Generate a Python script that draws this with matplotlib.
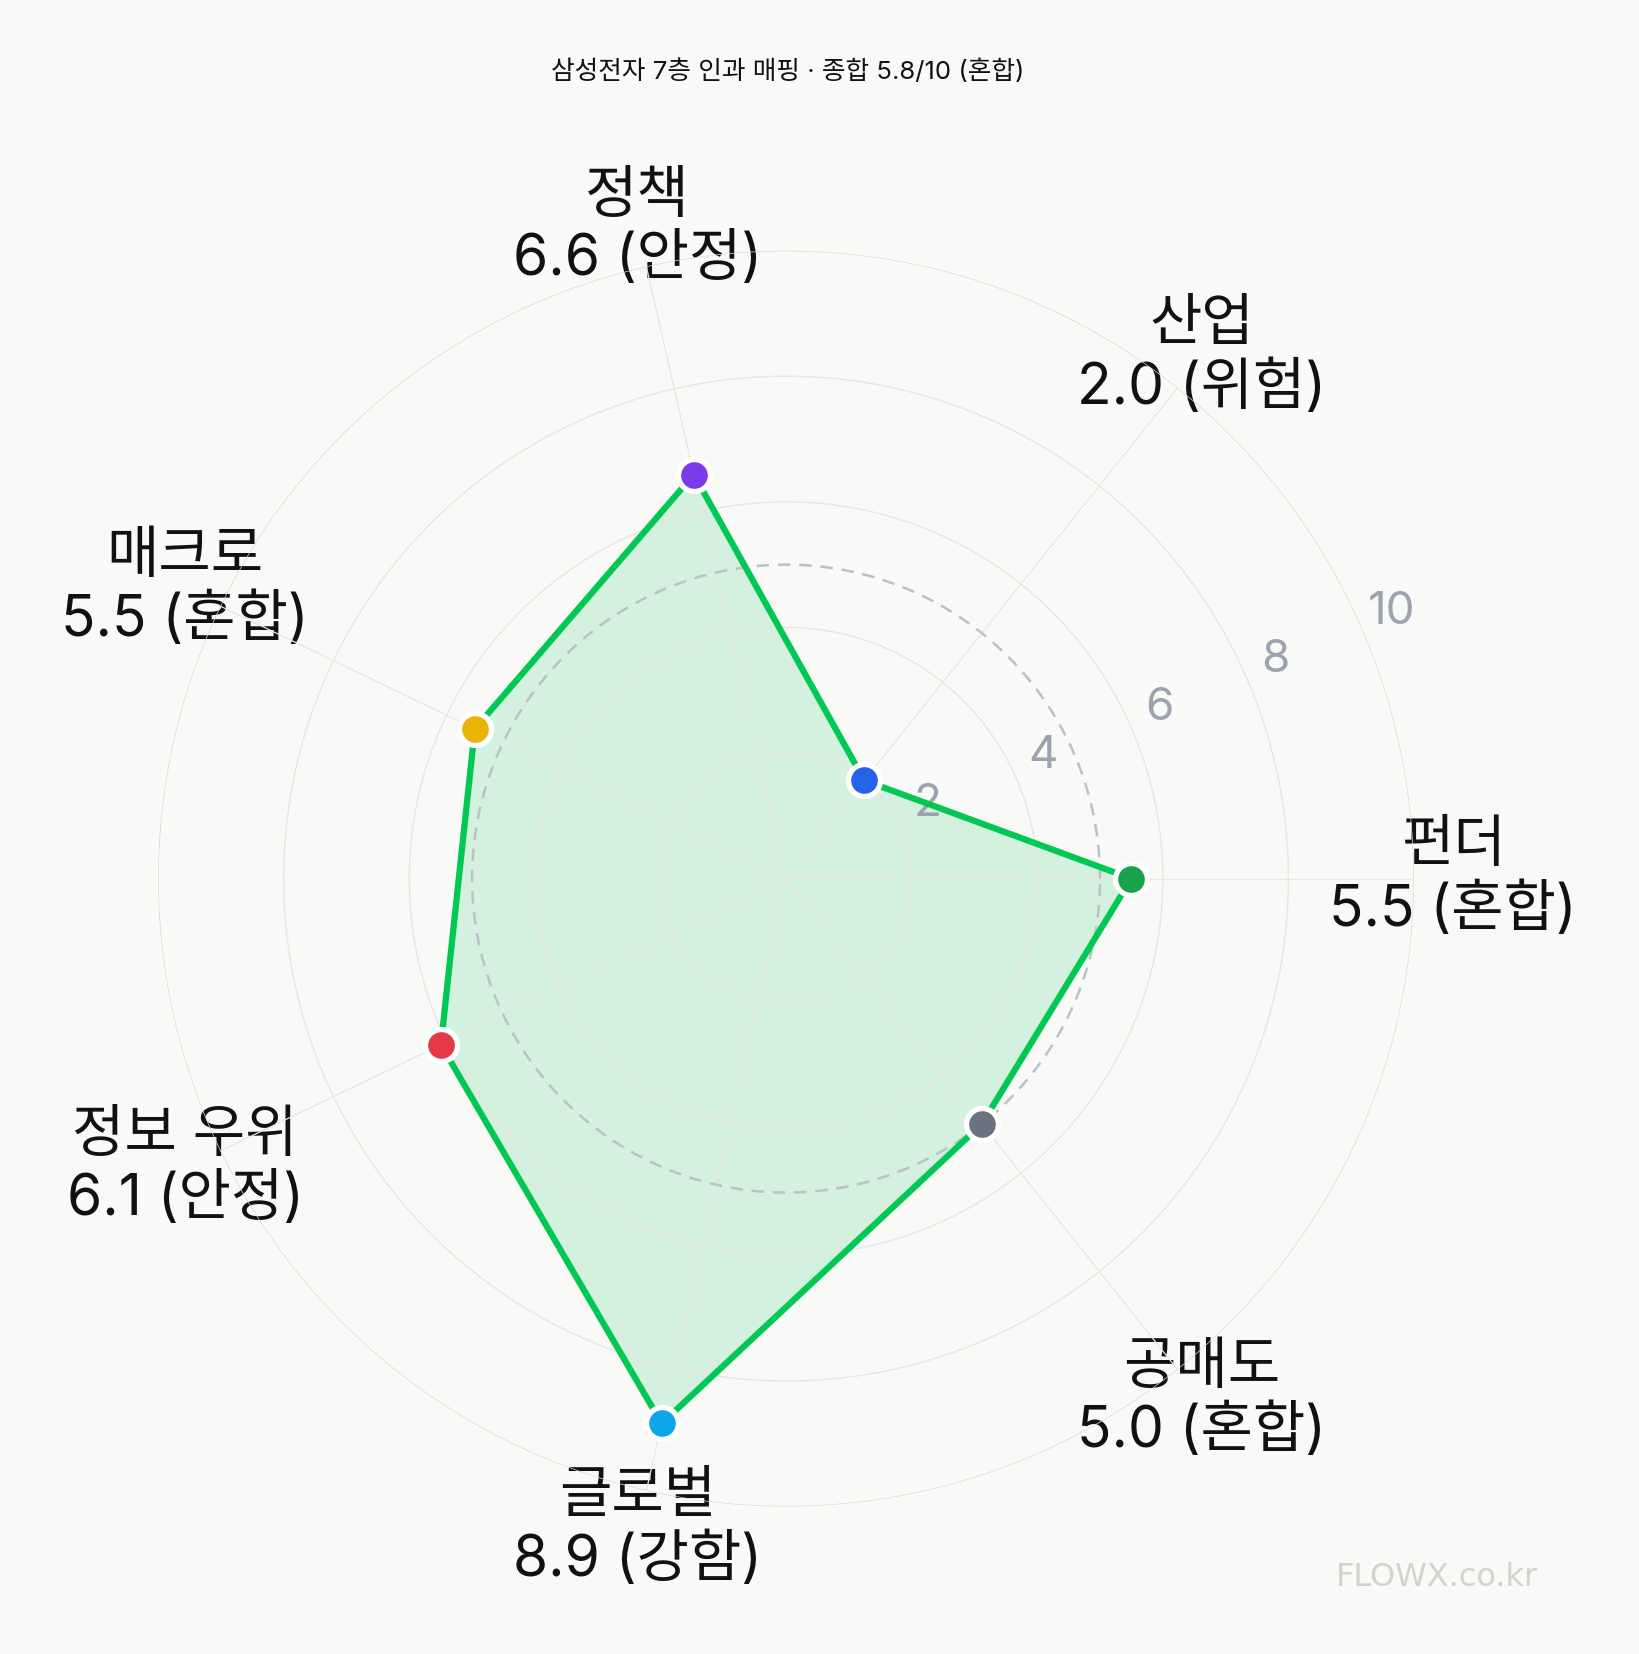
import numpy as np
import matplotlib.pyplot as plt

plt.rcParams['font.family'] = ['Inter', 'Noto Sans CJK KR', 'DejaVu Sans']

# data
categories = ['펀더', '산업', '정책', '매크로', '정보 우위', '글로벌', '공매도']
scores = [5.5, 2.0, 6.6, 5.5, 6.1, 8.9, 5.0]
status = ['혼합', '위험', '안정', '혼합', '안정', '강함', '혼합']
point_colors = ['#16a34a', '#2563eb', '#7c3aed', '#eab308', '#e63946', '#0ea5e9', '#6b7280']
r_ticks = [2, 4, 6, 8, 10]
avg_ring = 5.0
title = '삼성전자 7층 인과 매핑 · 종합 5.8/10 (혼합)'

BG = '#f9f9f7'
LINE = '#00c853'

fig = plt.figure(figsize=(16.4, 16.54), dpi=100, facecolor=BG)
ax = fig.add_axes([0.0964, 0.0891, 0.7658, 0.7594], projection='polar')
ax.set_facecolor(BG)

n = len(categories)
angles = np.linspace(0, 2 * np.pi, n, endpoint=False)

ax.set_ylim(0, 10)
ax.spines['polar'].set_visible(False)
ax.grid(False)
ax.set_xticks([])
ax.set_yticks([])

# polygon fill first, grid goes over it
th = np.append(angles, angles[0])
rr = np.append(scores, scores[0])
ax.fill(th, rr, color=LINE, alpha=0.15, lw=0, zorder=1)

# rings and spokes (on top of fill and labels, like the original)
circ = np.linspace(0, 2 * np.pi, 400)
for t in r_ticks:
    col = '#dadad4' if t == 10 else '#e6e6e3'
    ax.plot(circ, np.full_like(circ, t), color=col, lw=1.0, zorder=3)
for a in angles:
    ax.plot([a, a], [0, 10], color='#e6e6e3', lw=0.9, zorder=3)

# dashed average ring
ax.plot(circ, np.full_like(circ, avg_ring), color='#bcc1c9', lw=1.8,
        ls=(0, (5, 3.5)), zorder=3.5)

ax.plot(th, rr, color=LINE, lw=4.5, zorder=4, solid_joinstyle='miter')
for a, v, c in zip(angles, scores, point_colors):
    ax.plot(a, v, 'o', ms=23, mfc=c, mec='white', mew=3.8, zorder=5)

# radial tick labels
tick_ang = np.deg2rad(22.5)
for t in r_ticks:
    ax.annotate(str(t), xy=(tick_ang, t), xytext=(18, 19), textcoords='offset points',
                ha='center', va='center', fontsize=33, color='#9ca3af',
                zorder=2, annotation_clip=False)

# category labels
for a, name, v, s in zip(angles, categories, scores, status):
    ax.text(a, 10.62, f'{name}\n{v:.1f} ({s})', ha='center', va='center',
            fontsize=41, color='#111111', linespacing=1.2, clip_on=False, zorder=2)

fig.text(0.48, 0.9565, title, ha='center', va='center', fontsize=18.5, color='#111111')
fig.text(0.876, 0.046, 'FLOWX.co.kr', ha='center', va='center', fontsize=23,
         color='#d2d2ce', family='DejaVu Sans')

fig.savefig('out.png', dpi=100, facecolor=BG)
